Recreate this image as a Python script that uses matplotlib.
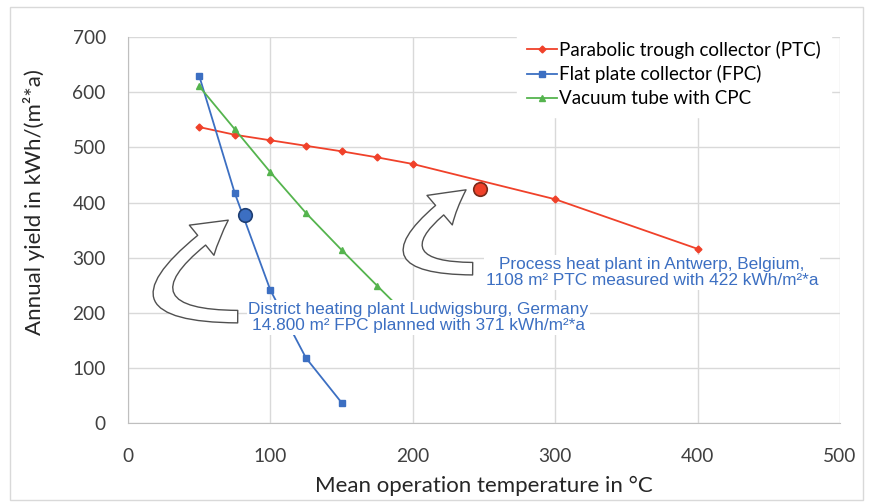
import matplotlib.pyplot as plt
from matplotlib.patches import FancyArrowPatch, Rectangle

# data
ptc_x = [50, 75, 100, 125, 150, 175, 200, 300, 400]
ptc_y = [537, 523, 513, 503, 493, 482, 470, 406, 316]
fpc_x = [50, 75, 100, 125, 150]
fpc_y = [630, 417, 241, 118, 37]
vtc_x = [50, 75, 100, 125, 150, 175, 200]
vtc_y = [611, 533, 455, 381, 314, 249, 185]

plants_x = [82, 247]
plants_y = [378, 425]

labels = ["Parabolic trough collector (PTC)", "Flat plate collector (FPC)", "Vacuum tube with CPC"]
note_fpc = "District heating plant Ludwigsburg, Germany\n14.800 m² FPC planned with 371 kWh/m²*a"
note_ptc = "Process heat plant in Antwerp, Belgium,\n1108 m² PTC measured with 422 kWh/m²*a"

red = "#F0412A"
blue = "#3C6FC2"
green = "#55B44E"

plt.rcParams['font.family'] = ['Lato', 'DejaVu Sans']

fig = plt.figure(figsize=(8.69, 5.03), dpi=100)
ax = fig.add_axes([0.1473, 0.159, 0.8193, 0.767])

ax.plot(ptc_x, ptc_y, color=red, lw=1.3, marker='D', ms=3.5, label=labels[0], zorder=3)
ax.plot(fpc_x, fpc_y, color=blue, lw=1.3, marker='s', ms=3.8, label=labels[1], zorder=3)
ax.plot(vtc_x, vtc_y, color=green, lw=1.3, marker='^', ms=4.5, label=labels[2], zorder=3)

ax.scatter(plants_x[0], plants_y[0], s=95, color=blue, edgecolor="#1F3F73", lw=1.2, zorder=5)
ax.scatter(plants_x[1], plants_y[1], s=95, color=red, edgecolor="#7A2A1A", lw=1.2, zorder=5)

ax.set_xlim(0, 500)
ax.set_ylim(0, 700)
ax.set_xticks(range(0, 501, 100))
ax.set_yticks(range(0, 701, 100))
ax.grid(True, color="#D9D9D9", lw=1.0)
ax.set_axisbelow(True)
for s in ['top', 'right']:
    ax.spines[s].set_visible(False)
for s in ['left', 'bottom']:
    ax.spines[s].set_color("#BFBFBF")
ax.tick_params(length=0, labelsize=13.8, colors="#404040")
ax.tick_params(axis='x', pad=18)
ax.tick_params(axis='y', pad=16)
ax.set_xlabel("Mean operation temperature in °C", fontsize=16, color="#262626", labelpad=8)
ax.set_ylabel("Annual yield in kWh/(m²*a)", fontsize=16, color="#262626")
ax.yaxis.set_label_coords(-0.117, 0.573)

leg = ax.legend(loc='upper right', bbox_to_anchor=(1.0, 1.04), fontsize=13.5, frameon=True,
                fancybox=False, framealpha=1, edgecolor='white', handlelength=1.6,
                handletextpad=0.15, labelspacing=0.36, borderpad=0.5)
leg.set_zorder(6)

# curved hollow arrows
style = "simple,head_length=2.4,head_width=2.8,tail_width=0.9"
a1 = FancyArrowPatch((79, 193), (72, 371), connectionstyle="angle3,angleA=0,angleB=35",
                     arrowstyle=style, mutation_scale=10, fc='white', ec='#505050', lw=1.0, zorder=4)
a2 = FancyArrowPatch((244, 280), (239, 426), connectionstyle="angle3,angleA=0,angleB=35",
                     arrowstyle=style, mutation_scale=10, fc='white', ec='#505050', lw=1.0, zorder=4)
ax.add_patch(a1)
ax.add_patch(a2)

bb = dict(boxstyle='square,pad=0.1', fc='white', ec='none')
ax.text(204, 191, note_fpc, ha='center', va='center', fontsize=12.4, color=blue,
        family=['Liberation Sans', 'DejaVu Sans'], linespacing=1.1, bbox=bb, zorder=4)
ax.text(368, 273, note_ptc, ha='center', va='center', fontsize=12.4, color=blue,
        family=['Liberation Sans', 'DejaVu Sans'], linespacing=1.1, bbox=bb, zorder=4)

fig.patches.append(Rectangle((0.0115, 0.006), 0.9816, 0.980, transform=fig.transFigure,
                             fill=False, ec="#D9D9D9", lw=1.0))

fig.savefig("out.png", dpi=100)
